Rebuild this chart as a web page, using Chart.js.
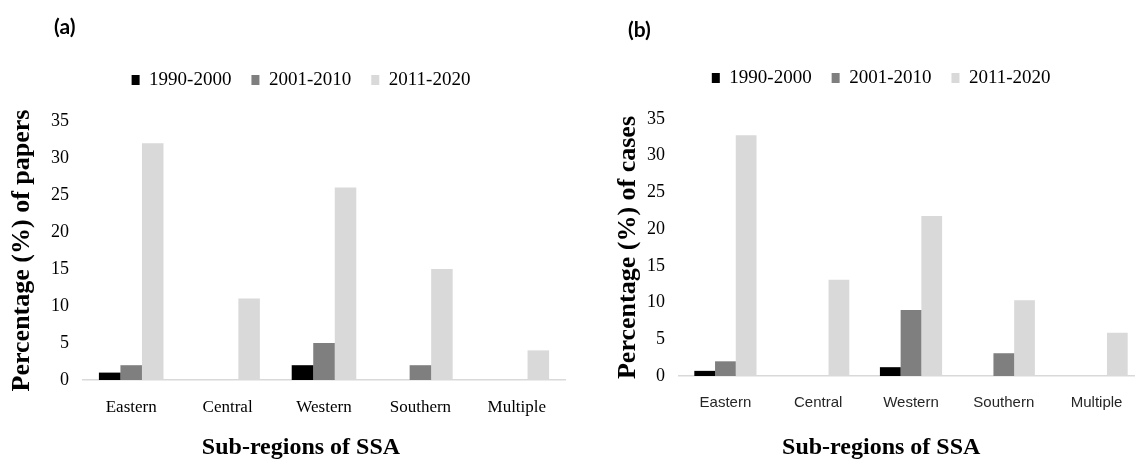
<!DOCTYPE html>
<html>
<head>
<meta charset="utf-8">
<title>Sub-regions of SSA</title>
<script src="https://cdn.jsdelivr.net/npm/chart.js@4.4.1/dist/chart.umd.min.js"></script>
<style>
    html, body { margin: 0; padding: 0; background: #fff; overflow: hidden; }
    #wrap { position: relative; width: 1135px; height: 465px; overflow: hidden; }
    #wrap canvas { position: absolute; top: 0; }
    #chartA { left: 0; }
    #chartB { left: 600px; }
    .panel { position: absolute; font: bold 21px Lato, "Liberation Sans", sans-serif; color: #000; }
</style>
</head>
<body>
<div id="wrap">
    <canvas id="chartA" width="600" height="465"></canvas>
    <canvas id="chartB" width="555" height="465"></canvas>
    <div class="panel" style="left:54px; top:13px;">(a)</div>
    <div class="panel" style="left:628px; top:16px;">(b)</div>
</div>
<script>
// datos
const regions = ['Eastern', 'Central', 'Western', 'Southern', 'Multiple'];
const periods = ['1990-2000', '2001-2010', '2011-2020'];

// (a) % de papers
const papers1990 = [1, 0, 2, 0, 0];
const papers2001 = [2, 0, 5, 2, 0];
const papers2011 = [32, 11, 26, 15, 4];

// (b) % de casos
const cases1990 = [0.7, 0, 1.2, 0, 0];
const cases2001 = [2, 0, 9, 3.1, 0];
const cases2011 = [32.8, 13.1, 21.8, 10.3, 5.9];

const yMin = 0;
const yMax = 35;
const yStep = 5;

const barColors = ['#000000', '#7f7f7f', '#d9d9d9'];
const serif = '"Liberation Serif", "Times New Roman", serif';
const sans = '"Liberation Sans", Arial, sans-serif';

function buildChart(canvasId, series, yTitle, geo) {
    const ctx = document.getElementById(canvasId).getContext('2d');
    return new Chart(ctx, {
        type: 'bar',
        data: {
            labels: regions,
            datasets: periods.map((p, i) => ({
                label: p,
                data: series[i],
                backgroundColor: barColors[i],
                borderWidth: 0,
                barPercentage: 1,
                categoryPercentage: 0.67,
                xAxisID: 'x',
                yAxisID: 'y'
            }))
        },
        options: {
            responsive: false,
            animation: false,
            devicePixelRatio: 1,
            layout: {
                padding: { left: geo.padLeft, right: geo.padRight, top: geo.padTop, bottom: geo.padBottom }
            },
            plugins: {
                legend: {
                    position: 'top',
                    labels: {
                        boxWidth: 8,
                        boxHeight: 10,
                        padding: 20,
                        color: '#000',
                        font: { family: serif, size: 19 }
                    }
                },
                title: {
                    display: true,
                    position: 'bottom',
                    text: 'Sub-regions of SSA',
                    color: '#000',
                    padding: 0,
                    font: { family: serif, size: 24, weight: 'bold' }
                },
                tooltip: { enabled: false }
            },
            scales: {
                x: {
                    grid: { display: false, drawTicks: false },
                    border: { display: true, color: '#d9d9d9', width: 1.5 },
                    ticks: { color: geo.xColor, font: geo.xFont, padding: geo.xPad, maxRotation: 0 },
                    afterFit: s => { s.height = geo.xHeight; }
                },
                y: {
                    min: yMin,
                    max: yMax,
                    grid: { display: false, drawTicks: false },
                    border: { display: false },
                    ticks: { stepSize: yStep, color: '#000', padding: 14, font: { family: serif, size: 18 } },
                    title: {
                        display: true,
                        text: yTitle,
                        color: '#000',
                        padding: 0,
                        font: { family: serif, size: 26, weight: 'bold' }
                    },
                    afterFit: s => { s.width = geo.yWidth; }
                },
                // espacios vacios para cuadrar la leyenda y el titulo
                gapTop: {
                    type: 'linear',
                    position: 'top',
                    grid: { display: false, drawTicks: false },
                    border: { display: false },
                    ticks: { display: false },
                    afterFit: s => { s.height = geo.gapTop; }
                },
                gapRight: {
                    type: 'linear',
                    position: 'right',
                    grid: { display: false, drawTicks: false },
                    border: { display: false },
                    ticks: { display: false },
                    afterFit: s => { s.width = geo.gapRight; }
                }
            }
        }
    });
}

const charts = {};

charts.a = buildChart('chartA', [papers1990, papers2001, papers2011], 'Percentage (%) of papers', {
    padLeft: 7, padRight: 5, padTop: 50.5, padBottom: 2.6,
    yWidth: 76, gapTop: 21.5, gapRight: 30,
    xHeight: 53.6, xPad: 17,
    xColor: '#000', xFont: { family: serif, size: 17 }
});

charts.b = buildChart('chartB', [cases1990, cases2001, cases2011], 'Percentage (%) of cases', {
    padLeft: 12.4, padRight: 5, padTop: 48.5, padBottom: 2.6,
    yWidth: 66.6, gapTop: 21.5, gapRight: 7,
    xHeight: 57.6, xPad: 18,
    xColor: '#262626', xFont: { family: sans, size: 15 }
});
</script>
</body>
</html>
